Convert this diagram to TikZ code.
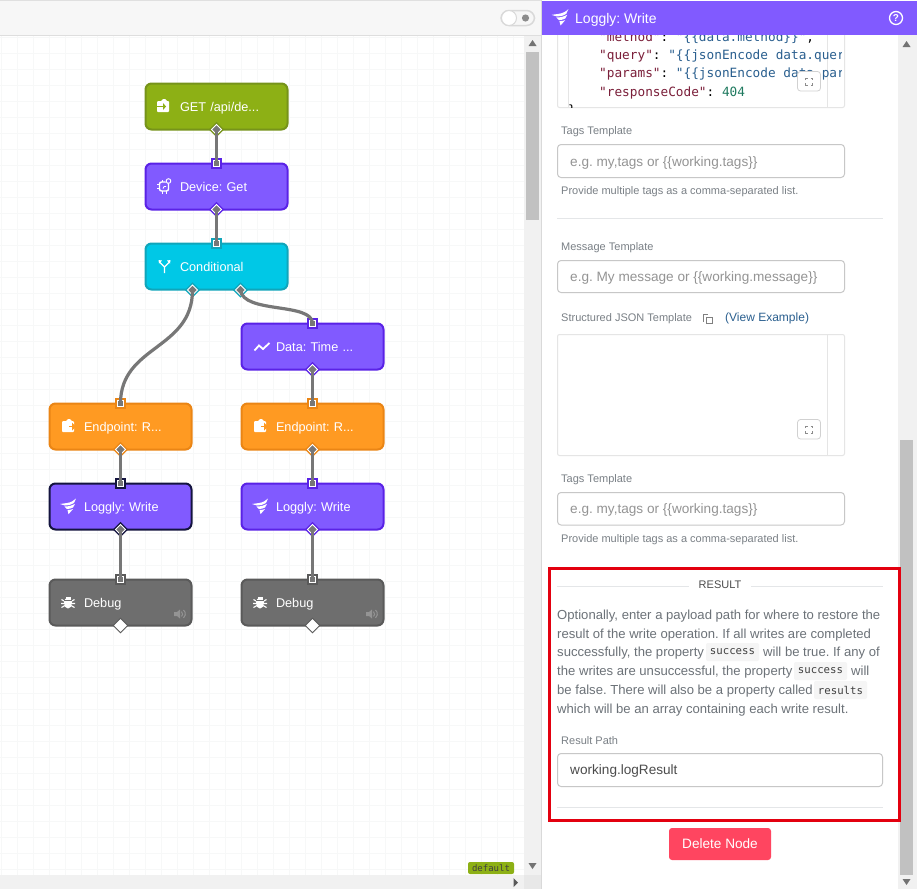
\documentclass[tikz,border=0pt]{standalone}
\usepackage{fontspec}
\setmainfont{Liberation Sans}
\newfontfamily\codefont{DejaVu Sans Mono}
\usetikzlibrary{shapes.geometric}
\frenchspacing
\newcommand{\fsz}[1]{\fontsize{#1}{#1}\selectfont}
\definecolor{violetfill}{HTML}{815AFF}
\definecolor{violetline}{HTML}{5A22E6}
\definecolor{oliveFill}{HTML}{8DB015}
\definecolor{oliveLine}{HTML}{76931A}
\definecolor{cyanFill}{HTML}{00C8E6}
\definecolor{cyanLine}{HTML}{10A5BA}
\definecolor{orangeFill}{HTML}{FF9A22}
\definecolor{orangeLine}{HTML}{EA8515}
\definecolor{debugFill}{HTML}{6E6E6E}
\definecolor{debugLine}{HTML}{5A5A5A}
\definecolor{selLine}{HTML}{14143F}
\definecolor{wireCol}{HTML}{777777}
\definecolor{gridCol}{HTML}{F7F8F8}
\definecolor{barCol}{HTML}{F1F1F1}
\definecolor{thumbCol}{HTML}{C1C1C1}
\definecolor{ruleCol}{HTML}{E4E6E8}
\definecolor{labelCol}{HTML}{7A8086}
\definecolor{bodyCol}{HTML}{6C7278}
\definecolor{keyCol}{HTML}{7B1F3A}
\definecolor{strCol}{HTML}{2A5F8F}
\definecolor{numCol}{HTML}{1F7A5F}
\tikzset{
  flownode/.style 2 args={draw=#2,fill=#1,line width=2pt,rounded corners=6pt,outer sep=0pt,
    minimum width=142pt,minimum height=46pt,text width=142pt,inner sep=0pt,align=left,
    text height=9.5pt,text depth=.5pt,
    text=white,font=\fsz{12.7},execute at begin node={\hspace*{34.5pt}}},
  portin/.style={rectangle,draw=white,fill=wireCol,line width=.8pt,minimum size=6.7pt,inner sep=0pt,outer sep=0pt,
    preaction={draw=#1,line width=3.8pt}},
  portout/.style={diamond,draw=white,fill=wireCol,line width=.8pt,minimum size=10pt,inner sep=0pt,outer sep=0pt,
    preaction={draw=#1,line width=3.6pt}},
  portend/.style={diamond,draw=debugLine,fill=white,line width=1pt,minimum size=14.5pt,inner sep=0pt,outer sep=0pt},
  wire/.style={draw=wireCol,line width=3.2pt},
  fieldlabel/.style={anchor=base west,inner sep=0pt,text=labelCol,font=\fsz{11}},
  ptext/.style={anchor=base west,inner sep=0pt,text=bodyCol,font=\fsz{13.1}},
  holder/.style={anchor=base west,inner sep=0pt,text=black!42,font=\fsz{13.6}},
  codeline/.style={anchor=base west,inner sep=0pt,font=\codefont\fsz{12.75}},
  inlinecode/.style={fill=barCol!70,rounded corners=2pt,minimum width=53pt,minimum height=18pt,
    inner sep=0pt,text=black!75,font=\codefont\fsz{10.7}},
  fieldbox/.style={draw=black!22,line width=1pt,rounded corners=3.5pt},
  rulebar/.style={draw=ruleCol,line width=1pt},
  expandbtn/.style={draw=black!18,fill=white,line width=.8pt,rounded corners=3pt},
  % icons of the flow nodes
  iconenter/.pic={
    \fill[white,rounded corners=1pt] (-6,-5) -- (-1,-5) -- (-1,-7) -- (3,-7) -- (3,-5) -- (6,-5) -- (6,6) -- (-6,6) -- cycle;
    \draw[oliveFill,line width=1.3pt] (-6,0.5) -- (1,0.5);
    \fill[oliveFill] (3,0.5) -- (0,-3) -- (0,4) -- cycle;},
  iconchip/.pic={
    \draw[white,line width=1.4pt,rounded corners=2pt] (-4.5,-4) rectangle (4.5,5);
    \draw[white,line width=1pt] (-7,-1.5) -- (-4.5,-1.5) (-7,2.5) -- (-4.5,2.5) (-1.5,5) -- (-1.5,7.5) (2,5) -- (2,7.5) (-2,-4) -- (-2,-6);
    \draw[white,line width=.9pt] (0,.5) -- (-1,2.5) (0,.5) -- (2,.5);
    \fill[violetfill] (4.5,-6) circle (3.5);
    \draw[white,line width=.9pt] (4.5,-5) circle (2.3);},
  iconbranch/.pic={
    \draw[white,line width=1.3pt] (0,7) -- (0,1) -- (-5,-4) (0,1) -- (5,-4);
    \fill[white] (-6,-6) -- (-2.5,-5.5) -- (-5.5,-2.5) -- cycle (6,-6) -- (2.5,-5.5) -- (5.5,-2.5) -- cycle;},
  iconline/.pic={
    \draw[white,line width=1.8pt] (-7.5,4) -- (-3,-1) -- (1,2.5) -- (7.5,-3.5);},
  iconexit/.pic={
    \fill[white,rounded corners=1pt] (-6,-5) -- (-1,-5) -- (-1,-7) -- (3,-7) -- (3,-5) -- (6,-5) -- (6,6) -- (-6,6) -- cycle;
    \draw[orangeFill,line width=1.3pt] (1,0.5) -- (7,0.5);
    \fill[orangeFill] (8,0.5) -- (4,-3.5) -- (4,4.5) -- cycle;},
  iconwing/.pic={
    \fill[white] (-9,-2.5) -- (-2,-3.5) .. controls (2,-4) and (5,-6) .. (7,-8) -- (5,-3.5) .. controls (2,-1.5) and (-1,-1) .. (-4,-1) -- cycle;
    \fill[white] (-4.5,0) .. controls (0,0) and (3,-1) .. (6,-2.5) -- (4,1) .. controls (2,2) and (0,2.5) .. (-2,2.5) -- cycle;
    \fill[white] (-1.5,3.5) .. controls (1,3.5) and (3,3) .. (4,2.5) -- (1,6) -- (-.5,7.5) -- cycle;},
  iconbug/.pic={
    \fill[white] (0,0.5) ellipse (4 and 5.5);
    \fill[white] (-2.5,-5.5) rectangle (2.5,-3);
    \draw[white,line width=1.1pt] (-6.5,-3) -- (-3,-1) (-7,1) -- (-3,1) (-6.5,5) -- (-3,3) (6.5,-3) -- (3,-1) (7,1) -- (3,1) (6.5,5) -- (3,3);
    \draw[debugFill,line width=.9pt] (-4,-2.5) -- (4,-2.5);},
  iconsound/.pic={
    \fill[black!42] (-6,-2) -- (-3,-2) -- (0,-4.5) -- (0,4.5) -- (-3,2) -- (-6,2) -- cycle;
    \draw[black!42,line width=1pt] (1.5,-2.5) arc (-50:50:3.2) (3.5,-4) arc (-50:50:5.2);},
  iconexpand/.pic={
    \draw[black!45,line width=.9pt] (-3.5,-1.5) -- (-3.5,-3.5) -- (-1.5,-3.5) (1.5,-3.5) -- (3.5,-3.5) -- (3.5,-1.5)
      (3.5,1.5) -- (3.5,3.5) -- (1.5,3.5) (-1.5,3.5) -- (-3.5,3.5) -- (-3.5,1.5);},
}
\begin{document}
\begin{tikzpicture}[x=1pt,y=-1pt]
\useasboundingbox (0,0) rectangle (917,889);
\fill[white] (0,0) rectangle (917,889);
% canvas grid
\foreach \gx in {1,17,...,513} {\draw[gridCol,line width=.7pt] (\gx,35) -- (\gx,875);}
\foreach \gy in {37,53,...,869} {\draw[gridCol,line width=.7pt] (0,\gy) -- (524,\gy);}
% top bar and scroll bars
\fill[black!3] (0,0) rectangle (541,35);
\draw[black!13,line width=1pt] (0,35) -- (541,35);
\draw[black!12,line width=1pt] (0,.5) -- (541,.5);
\draw[black!15,fill=black!3,line width=1.5pt,rounded corners=8pt] (501,10.5) rectangle (534.5,25.5);
\draw[black!15,fill=white,line width=1pt] (509,18) circle (7.5);
\fill[black!45] (525.5,18) circle (3.6);
\fill[barCol] (524,36) rectangle (541,875);
\fill[thumbCol] (526,52) rectangle (539,220);
\fill[black!55] (532.5,40) -- (528.5,46) -- (536.5,46) -- cycle;
\fill[black!55] (532.5,869) -- (528.5,863) -- (536.5,863) -- cycle;
\fill[barCol] (0,875) rectangle (524,889);
\fill[black!9] (524,875) rectangle (541,889);
\fill[black!65] (518,882.5) -- (513.5,878) -- (513.5,887) -- cycle;
\node[fill=oliveFill,rounded corners=2pt,minimum width=46pt,minimum height=12pt,inner sep=0pt,text=black!75,font=\codefont\fsz{9}] (tagDefault) at (491,868) {default};
% flow nodes
\node[flownode={oliveFill}{oliveLine}] (get) at (216.5,106.5) {GET /api/de...};
\node[flownode={violetfill}{violetline}] (device) at (216.5,186.5) {Device: Get};
\node[flownode={cyanFill}{cyanLine}] (cond) at (216.5,266.5) {Conditional};
\node[flownode={violetfill}{violetline}] (data) at (312.5,346.5) {Data: Time ...};
\node[flownode={orangeFill}{orangeLine}] (endL) at (120.5,426.5) {Endpoint: R...};
\node[flownode={orangeFill}{orangeLine}] (endR) at (312.5,426.5) {Endpoint: R...};
\node[flownode={violetfill}{selLine}] (logL) at (120.5,506.5) {Loggly: Write};
\node[flownode={violetfill}{violetline}] (logR) at (312.5,506.5) {Loggly: Write};
\node[flownode={debugFill}{debugLine}] (debL) at (120.5,602.5) {Debug};
\node[flownode={debugFill}{debugLine}] (debR) at (312.5,602.5) {Debug};
\pic at (163,106) {iconenter};
\pic at (164,186) {iconchip};
\pic at (164.5,266) {iconbranch};
\pic at (262,346.5) {iconline};
\pic at (68,426) {iconexit};
\pic at (260,426) {iconexit};
\pic at (69,506.5) {iconwing};
\pic at (261,506.5) {iconwing};
\pic at (68,602.5) {iconbug};
\pic at (260,602.5) {iconbug};
\pic at (180,614) {iconsound};
\pic at (372,614) {iconsound};
% ports
\node[portout=oliveLine] (getOut) at (get.south) {};
\node[portin=violetline] (deviceIn) at (device.north) {};
\node[portout=violetline] (deviceOut) at (device.south) {};
\node[portin=cyanLine] (condIn) at (cond.north) {};
\node[portout=cyanLine] (condOutA) at (192.5,290) {};
\node[portout=cyanLine] (condOutB) at (240.5,290) {};
\node[portin=violetline] (dataIn) at (data.north) {};
\node[portout=violetline] (dataOut) at (data.south) {};
\node[portin=orangeLine] (endLIn) at (endL.north) {};
\node[portout=orangeLine] (endLOut) at (endL.south) {};
\node[portin=orangeLine] (endRIn) at (endR.north) {};
\node[portout=orangeLine] (endROut) at (endR.south) {};
\node[portin=selLine] (logLIn) at (logL.north) {};
\node[portout=selLine] (logLOut) at (logL.south) {};
\node[portin=violetline] (logRIn) at (logR.north) {};
\node[portout=violetline] (logROut) at (logR.south) {};
\node[portin=debugLine] (debLIn) at (debL.north) {};
\node[portend] (debLOut) at (debL.south) {};
\node[portin=debugLine] (debRIn) at (debR.north) {};
\node[portend] (debROut) at (debR.south) {};
% connectors
\draw[wire] (getOut.center) -- (deviceIn.center);
\draw[wire] (deviceOut.center) -- (condIn.center);
\draw[wire] (condOutA.center) .. controls (192.5,350) and (120.5,345) .. (endLIn.center);
\draw[wire] (condOutB.center) .. controls (243,314) and (312.5,302) .. (dataIn.center);
\draw[wire] (dataOut.center) -- (endRIn.center);
\draw[wire] (endLOut.center) -- (logLIn.center);
\draw[wire] (endROut.center) -- (logRIn.center);
\draw[wire] (logLOut.center) -- (debLIn.center);
\draw[wire] (logROut.center) -- (debRIn.center);
% side panel
\draw[black!15,line width=1pt] (541.5,0) -- (541.5,889);
\fill[barCol] (898,35) rectangle (917,889);
\fill[thumbCol] (900,440) rectangle (913,875);
\fill[black!55] (906.5,41) -- (902.5,47) -- (910.5,47) -- cycle;
\fill[black!55] (906.5,885) -- (902.5,879) -- (910.5,879) -- cycle;
% upper code box
\draw[black!10,line width=1pt,rounded corners=2pt] (557.5,30) rectangle (844.5,107.5);
\draw[black!10,line width=1pt] (827.5,30) -- (827.5,107.5) (568.5,30) -- (568.5,107);
\begin{scope}
\clip (558,34) rectangle (841,107);
\node[codeline] (codeMethod) at (599,41) {\textcolor{keyCol}{"method"}: \textcolor{strCol}{"\{\{data.method\}\}"},};
\node[codeline] (codeQuery) at (599,59) {\textcolor{keyCol}{"query"}: \textcolor{strCol}{"\{\{jsonEncode data.query\}\}"},};
\node[codeline] (codeParams) at (599,77.5) {\textcolor{keyCol}{"params"}: \textcolor{strCol}{"\{\{jsonEncode data.params\}\}"},};
\node[codeline] (codeResp) at (599,96) {\textcolor{keyCol}{"responseCode"}: \textcolor{numCol}{404}};
\node[codeline] (codeClose) at (568,114) {\}};
\end{scope}
\draw[expandbtn] (797.5,71.5) rectangle (820.5,91);
\pic at (809,81.5) {iconexpand};
% panel header
\fill[violetfill] (542,1) rectangle (917,34.5);
\pic[scale=1.05] at (561,17.5) {iconwing};
\node[anchor=base west,inner sep=0pt,text=white,font=\fsz{14}] (headTitle) at (575,23) {Loggly: Write};
\draw[white,line width=1.3pt] (896,18) circle (6.5);
\node[inner sep=0pt,text=white,font=\bfseries\fsz{10}] (headHelp) at (896,18) {?};
% fields
\node[fieldlabel] (tagsLabelA) at (561,134) {Tags Template};
\draw[fieldbox] (557.5,144.5) rectangle (844.5,177.5);
\node[holder] (tagsHoldA) at (570,166) {e.g. my,tags or \{\{working.tags\}\}};
\node[fieldlabel] (tagsHelpA) at (561,194) {Provide multiple tags as a comma-separated list.};
\draw[rulebar] (557,218.5) -- (883,218.5);
\node[fieldlabel] (msgLabel) at (561,250) {Message Template};
\draw[fieldbox] (557.5,260.5) rectangle (844.5,292.5);
\node[holder] (msgHold) at (570,281) {e.g. My message or \{\{working.message\}\}};
\node[fieldlabel] (jsonLabel) at (561,321) {Structured JSON Template};
\draw[black!50,line width=.8pt] (703.5,322) -- (703.5,314.5) -- (708,314.5);
\draw[black!50,line width=.9pt] (706,317) rectangle (712.5,323.5);
\node[anchor=base west,inner sep=0pt,text=strCol,font=\fsz{12}] (viewExample) at (725,321.5) {(View Example)};
\draw[black!10,line width=1pt,rounded corners=2pt] (557.5,334.5) rectangle (844.5,455.5);
\draw[black!10,line width=1pt] (827.5,334.5) -- (827.5,455.5);
\draw[expandbtn] (797.5,419.5) rectangle (820.5,439);
\pic at (809,429.5) {iconexpand};
\node[fieldlabel] (tagsLabelB) at (561,482) {Tags Template};
\draw[fieldbox] (557.5,492.5) rectangle (844.5,525);
\node[holder] (tagsHoldB) at (570,513) {e.g. my,tags or \{\{working.tags\}\}};
\node[fieldlabel] (tagsHelpB) at (561,542) {Provide multiple tags as a comma-separated list.};
% result section
\draw[rulebar] (557,586.5) -- (689,586.5) (751,586.5) -- (883,586.5);
\node[inner sep=0pt,anchor=base,text=black!70,font=\fsz{11}] (resultHead) at (720,588) {RESULT};
\node[ptext] (lineA) at (557,619) {Optionally, enter a payload path for where to restore the};
\node[ptext] (lineB) at (557,638) {result of the write operation. If all writes are completed};
\node[ptext] (lineC) at (557,656.5) {successfully, the property};
\node[inlinecode] (codeA) at (732.5,652) {success};
\node[ptext] (lineCb) at (763,656.5) {will be true. If any of};
\node[ptext] (lineD) at (557,675.5) {the writes are unsuccessful, the property};
\node[inlinecode] (codeB) at (820.5,671) {success};
\node[ptext] (lineDb) at (851,675.5) {will};
\node[ptext] (lineE) at (557,694) {be false. There will also be a property called};
\node[inlinecode] (codeC) at (840.5,690) {results};
\node[ptext] (lineF) at (557,713) {which will be an array containing each write result.};
\node[fieldlabel] (pathLabel) at (561,744) {Result Path};
\draw[fieldbox] (557.5,753.5) rectangle (882.5,786.5);
\node[holder,text=black!70] (pathValue) at (570,774.5) {working.logResult};
\draw[rulebar] (557,807.5) -- (883,807.5);
\draw[draw={rgb,255:red,227;green,0;blue,15},line width=3pt] (549.5,568.5) rectangle (899.5,820);
\node[fill={rgb,255:red,255;green,69;blue,96},rounded corners=3pt,minimum width=102pt,minimum height=32pt,inner sep=0pt,text=white,font=\fsz{13.6}] (deleteBtn) at (720,844) {Delete Node};
\end{tikzpicture}
\end{document}
